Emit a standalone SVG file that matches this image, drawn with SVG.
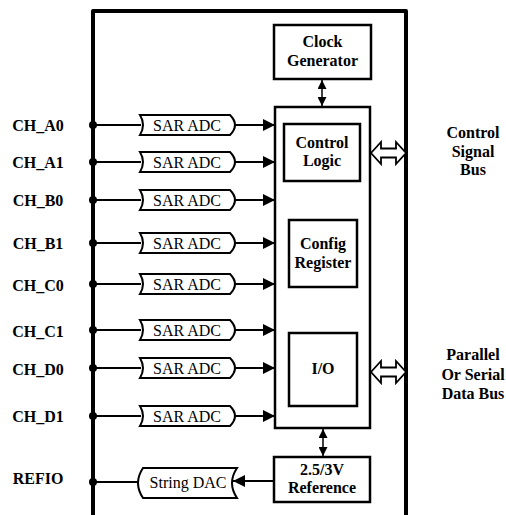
<svg xmlns="http://www.w3.org/2000/svg" width="506" height="515" viewBox="0 0 506 515">
<defs>
<style>
.lbl{font-family:"Liberation Serif","Tinos","Nimbus Roman","DejaVu Serif",serif;font-size:16px;font-weight:bold;fill:#000;}
.reg{font-family:"Liberation Serif","Tinos","Nimbus Roman","DejaVu Serif",serif;font-size:16px;fill:#000;}
.box{fill:#fff;stroke:#000;stroke-width:2.5;}
.adc{fill:#fff;stroke:#000;stroke-width:2;}
.wire{stroke:#000;stroke-width:2;fill:none;}
.thin{stroke:#000;stroke-width:1.5;fill:none;}
.hollow{fill:#fff;stroke:#000;stroke-width:1.8;stroke-linejoin:miter;}
</style>
<marker id="ah" viewBox="0 0 12 12" refX="12" refY="6" markerWidth="12" markerHeight="12" markerUnits="userSpaceOnUse" orient="auto">
<path d="M0,0 L12,6 L0,12 Z" fill="#000"/>
</marker>
<marker id="sa" viewBox="0 0 9 9" refX="9" refY="4.5" markerWidth="9" markerHeight="9" markerUnits="userSpaceOnUse" orient="auto-start-reverse">
<path d="M0,0 L9,4.5 L0,9 Z" fill="#000"/>
</marker>
</defs>
<rect width="506" height="515" fill="#fff"/>

<g id="outer">
<path d="M93,520 L93,11 L406,11 L406,520" fill="none" stroke="#000" stroke-width="4" stroke-linejoin="round"/>
</g>

<g id="labels">
<text class="lbl" x="38" y="130.5" text-anchor="middle">CH_A0</text>
<text class="lbl" x="38" y="167.5" text-anchor="middle">CH_A1</text>
<text class="lbl" x="38" y="205.5" text-anchor="middle">CH_B0</text>
<text class="lbl" x="38" y="249" text-anchor="middle">CH_B1</text>
<text class="lbl" x="38" y="291" text-anchor="middle">CH_C0</text>
<text class="lbl" x="38" y="336.5" text-anchor="middle">CH_C1</text>
<text class="lbl" x="38" y="375" text-anchor="middle">CH_D0</text>
<text class="lbl" x="38" y="422" text-anchor="middle">CH_D1</text>
<text class="lbl" x="38" y="484" text-anchor="middle">REFIO</text>
</g>

<g id="connectors">
<line class="wire" x1="93" y1="125" x2="141" y2="125"/>
<line class="wire" x1="93" y1="162" x2="141" y2="162"/>
<line class="wire" x1="93" y1="200" x2="141" y2="200"/>
<line class="wire" x1="93" y1="243" x2="141" y2="243"/>
<line class="wire" x1="93" y1="284" x2="141" y2="284"/>
<line class="wire" x1="93" y1="330" x2="141" y2="330"/>
<line class="wire" x1="93" y1="368" x2="141" y2="368"/>
<line class="wire" x1="93" y1="416" x2="141" y2="416"/>
<line class="wire" x1="93" y1="482" x2="141" y2="482"/>
<line class="wire" x1="235" y1="125" x2="275" y2="125" marker-end="url(#ah)"/>
<line class="wire" x1="235" y1="162" x2="275" y2="162" marker-end="url(#ah)"/>
<line class="wire" x1="235" y1="200" x2="275" y2="200" marker-end="url(#ah)"/>
<line class="wire" x1="235" y1="243" x2="275" y2="243" marker-end="url(#ah)"/>
<line class="wire" x1="235" y1="284" x2="275" y2="284" marker-end="url(#ah)"/>
<line class="wire" x1="235" y1="330" x2="275" y2="330" marker-end="url(#ah)"/>
<line class="wire" x1="235" y1="368" x2="275" y2="368" marker-end="url(#ah)"/>
<line class="wire" x1="235" y1="416" x2="275" y2="416" marker-end="url(#ah)"/>
<line class="wire" x1="274" y1="481" x2="233" y2="481" marker-end="url(#ah)"/>
<line class="thin" x1="322" y1="80" x2="322" y2="106" marker-start="url(#sa)" marker-end="url(#sa)"/>
<line class="thin" x1="323" y1="182" x2="323" y2="219" marker-start="url(#sa)" marker-end="url(#sa)"/>
<line class="thin" x1="323" y1="288" x2="323" y2="332" marker-start="url(#sa)" marker-end="url(#sa)"/>
<line class="thin" x1="323" y1="429" x2="323" y2="456" marker-start="url(#sa)" marker-end="url(#sa)"/>
<path class="hollow" d="M371,153 L381,142 L381,148.5 L396,148.5 L396,142 L406,153 L396,164 L396,157.5 L381,157.5 L381,164 Z"/>
<path class="hollow" d="M371,372 L381,361 L381,367.5 L396,367.5 L396,361 L406,372 L396,383 L396,376.5 L381,376.5 L381,383 Z"/>
<g fill="#000">
<circle cx="93" cy="125" r="4"/>
<circle cx="93" cy="162" r="4"/>
<circle cx="93" cy="200" r="4"/>
<circle cx="93" cy="243" r="4"/>
<circle cx="93" cy="284" r="4"/>
<circle cx="93" cy="330" r="4"/>
<circle cx="93" cy="368" r="4"/>
<circle cx="93" cy="416" r="4"/>
<circle cx="93" cy="482" r="4"/>
</g>
</g>

<g id="adc_a0"><path class="adc" d="M140,115 L230,115 Q240,125 230,135 L140,135 Q146,125 140,115 Z"/><text class="reg" x="187" y="130.5" text-anchor="middle">SAR ADC</text></g>
<g id="adc_a1"><path class="adc" d="M140,152 L230,152 Q240,162 230,172 L140,172 Q146,162 140,152 Z"/><text class="reg" x="187" y="167.5" text-anchor="middle">SAR ADC</text></g>
<g id="adc_b0"><path class="adc" d="M140,190 L230,190 Q240,200 230,210 L140,210 Q146,200 140,190 Z"/><text class="reg" x="187" y="205.5" text-anchor="middle">SAR ADC</text></g>
<g id="adc_b1"><path class="adc" d="M140,233 L230,233 Q240,243 230,253 L140,253 Q146,243 140,233 Z"/><text class="reg" x="187" y="248.5" text-anchor="middle">SAR ADC</text></g>
<g id="adc_c0"><path class="adc" d="M140,274 L230,274 Q240,284 230,294 L140,294 Q146,284 140,274 Z"/><text class="reg" x="187" y="289.5" text-anchor="middle">SAR ADC</text></g>
<g id="adc_c1"><path class="adc" d="M140,320 L230,320 Q240,330 230,340 L140,340 Q146,330 140,320 Z"/><text class="reg" x="187" y="335.5" text-anchor="middle">SAR ADC</text></g>
<g id="adc_d0"><path class="adc" d="M140,358 L230,358 Q240,368 230,378 L140,378 Q146,368 140,358 Z"/><text class="reg" x="187" y="373.5" text-anchor="middle">SAR ADC</text></g>
<g id="adc_d1"><path class="adc" d="M140,406 L230,406 Q240,416 230,426 L140,426 Q146,416 140,406 Z"/><text class="reg" x="187" y="421.5" text-anchor="middle">SAR ADC</text></g>
<g id="string_dac"><path class="adc" d="M143,468 L237,468 Q227,483 237,498 L143,498 Q133,483 143,468 Z"/><text class="reg" x="188" y="488" text-anchor="middle">String DAC</text></g>

<g id="clock"><rect class="box" x="274" y="25" width="97" height="54"/><text class="lbl" x="322.5" y="47" text-anchor="middle">Clock</text><text class="lbl" x="322.5" y="66" text-anchor="middle">Generator</text></g>
<g id="core"><rect class="box" x="275" y="107" width="95" height="321"/></g>
<g id="control_logic"><rect class="box" x="284" y="124" width="76" height="57"/><text class="lbl" x="322" y="148" text-anchor="middle">Control</text><text class="lbl" x="322" y="166" text-anchor="middle">Logic</text></g>
<g id="config"><rect class="box" x="289" y="220" width="68" height="67"/><text class="lbl" x="323" y="249" text-anchor="middle">Config</text><text class="lbl" x="323" y="268" text-anchor="middle">Register</text></g>
<g id="io"><rect class="box" x="289" y="333" width="68" height="73"/><text class="lbl" x="323" y="374" text-anchor="middle">I/O</text></g>
<g id="reference"><rect class="box" x="274" y="457" width="96" height="45"/><text class="lbl" x="322" y="475" text-anchor="middle">2.5/3V</text><text class="lbl" x="322" y="493" text-anchor="middle">Reference</text></g>

<g id="control_bus_label"><text class="lbl" x="473" y="138" text-anchor="middle">Control</text><text class="lbl" x="473" y="156.5" text-anchor="middle">Signal</text><text class="lbl" x="473" y="175" text-anchor="middle">Bus</text></g>
<g id="data_bus_label"><text class="lbl" x="473" y="360" text-anchor="middle">Parallel</text><text class="lbl" x="473" y="380" text-anchor="middle">Or Serial</text><text class="lbl" x="473" y="399" text-anchor="middle">Data Bus</text></g>
</svg>
